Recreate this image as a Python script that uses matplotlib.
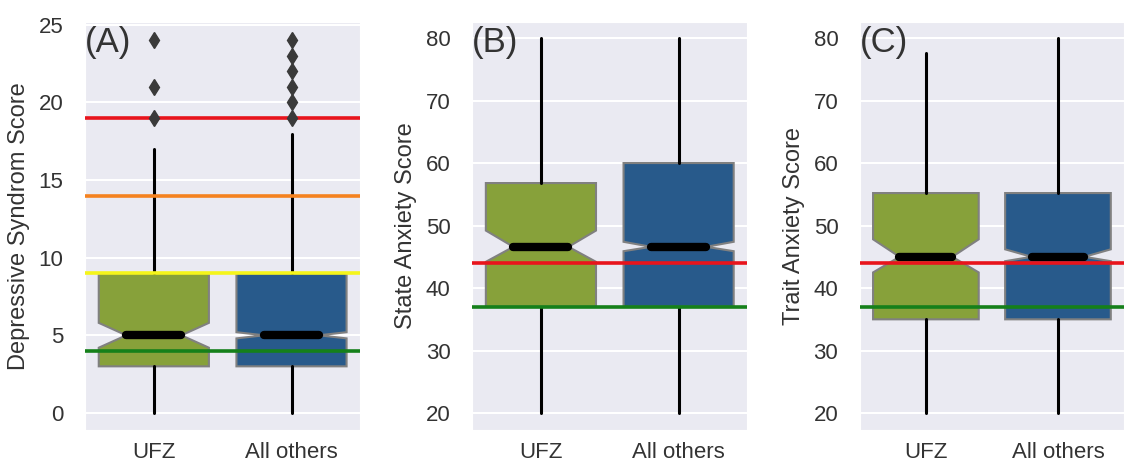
import numpy as np
import matplotlib
matplotlib.use("Agg")
import matplotlib.pyplot as plt
import seaborn as sns

sns.set_style("darkgrid")
plt.rcParams['font.family'] = ['Liberation Sans', 'DejaVu Sans']

groups = ['UFZ', 'All others']
box_colors = ['#87a13a', '#285a8b']

# panel data: q1, median, q3, whisker low/high, notch low/high, fliers
dep_q1 = [3, 3]
dep_med = [5, 5]
dep_q3 = [9, 9]
dep_wlo = [0, 0]
dep_whi = [17, 18]
dep_cilo = [4.2, 4.8]
dep_cihi = [5.8, 5.2]
dep_fliers = [[19, 21, 24], [19, 20, 21, 22, 23, 24]]

state_q1 = [37, 37]
state_med = [46.6, 46.6]
state_q3 = [56.8, 60]
state_wlo = [20, 20]
state_whi = [80, 80]
state_cilo = [44.2, 45.9]
state_cihi = [49.2, 47.4]

trait_q1 = [35, 35]
trait_med = [45, 45]
trait_q3 = [55.2, 55.2]
trait_wlo = [20, 20]
trait_whi = [77.6, 80]
trait_cilo = [42.5, 44.3]
trait_cihi = [47.8, 46.2]

dep_lines = [(19, '#e8141c'), (14, '#f5821f'), (9, '#f5f51a'), (4, '#15801a')]
anx_lines = [(44, '#e8141c'), (37, '#15801a')]


def make_stats(q1, med, q3, wlo, whi, cilo, cihi, fliers=None):
    stats = []
    for i in range(len(q1)):
        stats.append(dict(q1=q1[i], med=med[i], q3=q3[i], whislo=wlo[i], whishi=whi[i],
                          cilo=cilo[i], cihi=cihi[i],
                          fliers=np.array(fliers[i] if fliers else [])))
    return stats


def draw(ax, stats, lines, ylabel, yticks, ylim, tag):
    bp = ax.bxp(stats, positions=[0, 1], widths=0.8, shownotches=True, patch_artist=True,
                showcaps=False,
                boxprops=dict(edgecolor='#808080', linewidth=1.5),
                whiskerprops=dict(color='black', linewidth=2.2),
                medianprops=dict(color='black', linewidth=6, solid_capstyle='round'),
                flierprops=dict(marker='d', markerfacecolor='#3a3a3a', markeredgecolor='#3a3a3a',
                                markersize=8, linestyle='none'))
    for patch, c in zip(bp['boxes'], box_colors):
        patch.set_facecolor(c)
    for f in bp['fliers']:
        f.set_zorder(6)
    for y, c in lines:
        ax.axhline(y, color=c, linewidth=2.6, zorder=5)
    ax.set_xlim(-0.5, 1.5)
    ax.set_ylim(*ylim)
    ax.set_yticks(yticks)
    ax.set_xticks([0, 1])
    ax.set_xticklabels(groups)
    ax.grid(False, axis='x')
    ax.grid(True, axis='y', color='white', linewidth=1.5)
    ax.set_ylabel(ylabel, fontsize=17, labelpad=6)
    ax.tick_params(axis='y', labelsize=16, pad=12, colors='#333333')
    ax.tick_params(axis='x', labelsize=16, pad=5, colors='#333333')
    ax.yaxis.label.set_color('#333333')
    ax.text(0.0, 0.99, tag, transform=ax.transAxes, fontsize=25, va='top', ha='left',
            color='#333333', zorder=7)


fig = plt.figure(figsize=(11.24, 4.66), dpi=100)
ax1 = fig.add_axes([0.0756, 0.0773, 0.245, 0.876])
ax2 = fig.add_axes([0.420, 0.0773, 0.245, 0.876])
ax3 = fig.add_axes([0.765, 0.0773, 0.235, 0.876])

draw(ax1, make_stats(dep_q1, dep_med, dep_q3, dep_wlo, dep_whi, dep_cilo, dep_cihi, dep_fliers),
     dep_lines, 'Depressive Syndrom Score', [0, 5, 10, 15, 20, 25], (-1.1, 25.2), '(A)')
draw(ax2, make_stats(state_q1, state_med, state_q3, state_wlo, state_whi, state_cilo, state_cihi),
     anx_lines, 'State Anxiety Score', [20, 30, 40, 50, 60, 70, 80], (17.3, 82.6), '(B)')
draw(ax3, make_stats(trait_q1, trait_med, trait_q3, trait_wlo, trait_whi, trait_cilo, trait_cihi),
     anx_lines, 'Trait Anxiety Score', [20, 30, 40, 50, 60, 70, 80], (17.3, 82.6), '(C)')

fig.savefig('out.png', dpi=100)
